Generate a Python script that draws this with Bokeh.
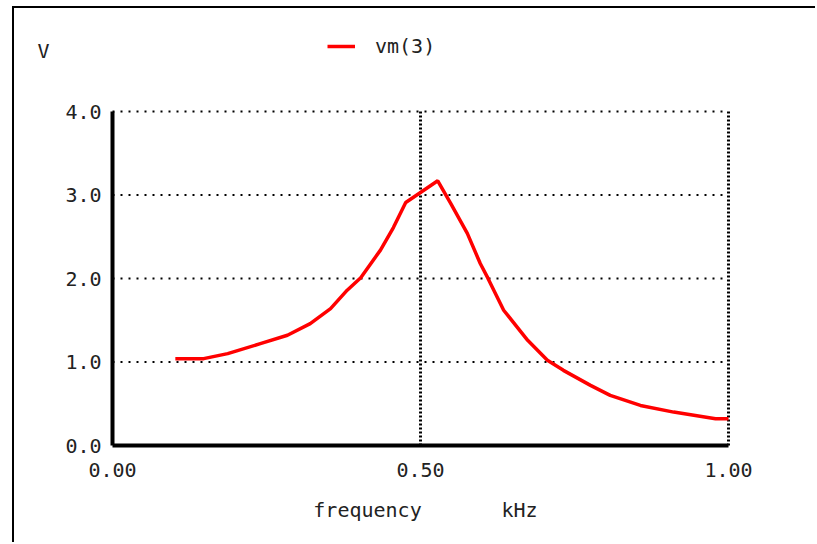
from bokeh.plotting import figure
from bokeh.models import Label, Legend, LegendItem, Range1d, FixedTicker, NumeralTickFormatter, LinearAxis
from bokeh.embed import file_html
from bokeh.resources import INLINE

# data (frequency in kHz, vm(3) in V)
freq = [0.102, 0.148, 0.187, 0.240, 0.284, 0.321, 0.354, 0.381, 0.403, 0.435,
        0.456, 0.476, 0.500, 0.528, 0.549, 0.576, 0.597, 0.609, 0.635, 0.674,
        0.706, 0.732, 0.776, 0.808, 0.857, 0.911, 0.979, 1.000]
vm3 = [1.04, 1.04, 1.10, 1.22, 1.32, 1.46, 1.64, 1.86, 2.01, 2.34,
       2.61, 2.91, 3.03, 3.17, 2.90, 2.54, 2.18, 2.01, 1.62, 1.26,
       1.02, 0.90, 0.72, 0.60, 0.48, 0.40, 0.32, 0.32]
x_ticks = [0.0, 0.5, 1.0]
y_ticks = [0.0, 1.0, 2.0, 3.0, 4.0]
series_name = "vm(3)"
y_unit = "V"
x_name = "frequency"
x_unit = "kHz"

FONT = "DejaVu Sans Mono"
FS = "20px"
TXT = "#222222"

# layout (pixels on the canvas)
W, H = 803, 536
PL, PR, PT, PB = 98, 714, 103, 437      # plot box on the canvas
X0, X1 = x_ticks[0], x_ticks[-1]
Y0, Y1 = y_ticks[0], y_ticks[-1]
kx = (X1 - X0) / (PR - PL)
ky = (Y1 - Y0) / (PB - PT)
x_range = Range1d(X0 - PL * kx, X1 + (W - PR) * kx)
y_range = Range1d(Y0 - (H - PB) * ky, Y1 + PT * ky)

p = figure(width=W, height=H, x_range=x_range, y_range=y_range,
           output_backend="svg", toolbar_location=None,
           x_axis_location=None, y_axis_location=None,
           min_border_left=0, min_border_right=0, min_border_top=0, min_border_bottom=0)
p.margin = (6, 0, 0, 12)
p.styles = {"border-left": "2px solid black", "border-top": "2px solid black"}
p.outline_line_color = None
p.background_fill_color = "white"
p.border_fill_color = "white"
p.xgrid.visible = False
p.ygrid.visible = False

# dotted grid lines, bounded to the plot box
hx = [t for t in y_ticks if t != Y0]
p.segment(x0=[X0] * len(hx), y0=hx, x1=[X1] * len(hx), y1=hx,
          line_color="black", line_width=2, line_dash="2 6")
vx = [t for t in x_ticks if t != X0]
p.segment(x0=vx, y0=[Y0] * len(vx), x1=vx, y1=[Y1] * len(vx),
          line_color="black", line_width=3, line_dash="2 2")

xaxis = LinearAxis(fixed_location=Y0, bounds=(X0, X1), ticker=FixedTicker(ticks=x_ticks),
                   formatter=NumeralTickFormatter(format="0.00"))
yaxis = LinearAxis(fixed_location=X0, bounds=(Y0, Y1), ticker=FixedTicker(ticks=y_ticks),
                   formatter=NumeralTickFormatter(format="0.0"))
for ax in (xaxis, yaxis):
    ax.axis_line_width = 4
    ax.axis_line_color = "black"
    ax.major_tick_line_color = None
    ax.minor_tick_line_color = None
    ax.major_tick_out = 0
    ax.major_tick_in = 0
    ax.major_label_text_font = FONT
    ax.major_label_text_font_size = FS
    ax.major_label_text_color = TXT
xaxis.major_label_standoff = 17
yaxis.major_label_standoff = 11
p.add_layout(xaxis, "below")
p.add_layout(yaxis, "left")

r = p.line(freq, vm3, line_color="#ff0000", line_width=3.5)

legend = Legend(items=[LegendItem(label=series_name, renderers=[r])], location=(313, 486),
                orientation="horizontal", border_line_color=None, background_fill_alpha=0,
                padding=0, margin=0, glyph_width=28, glyph_height=20, label_height=20,
                label_standoff=20, label_text_font=FONT, label_text_font_size=FS,
                label_text_color=TXT)
p.add_layout(legend)

p.add_layout(Label(x=23, y=494, x_units="screen", y_units="screen", text=y_unit,
                   text_font=FONT, text_font_size=FS, text_color=TXT, text_baseline="middle"))
p.add_layout(Label(x=353, y=35, x_units="screen", y_units="screen", text=x_name,
                   text_font=FONT, text_font_size=FS, text_color=TXT,
                   text_align="center", text_baseline="middle"))
p.add_layout(Label(x=505, y=35, x_units="screen", y_units="screen", text=x_unit,
                   text_font=FONT, text_font_size=FS, text_color=TXT,
                   text_align="center", text_baseline="middle"))

open("out.html", "w").write(file_html(p, INLINE))
